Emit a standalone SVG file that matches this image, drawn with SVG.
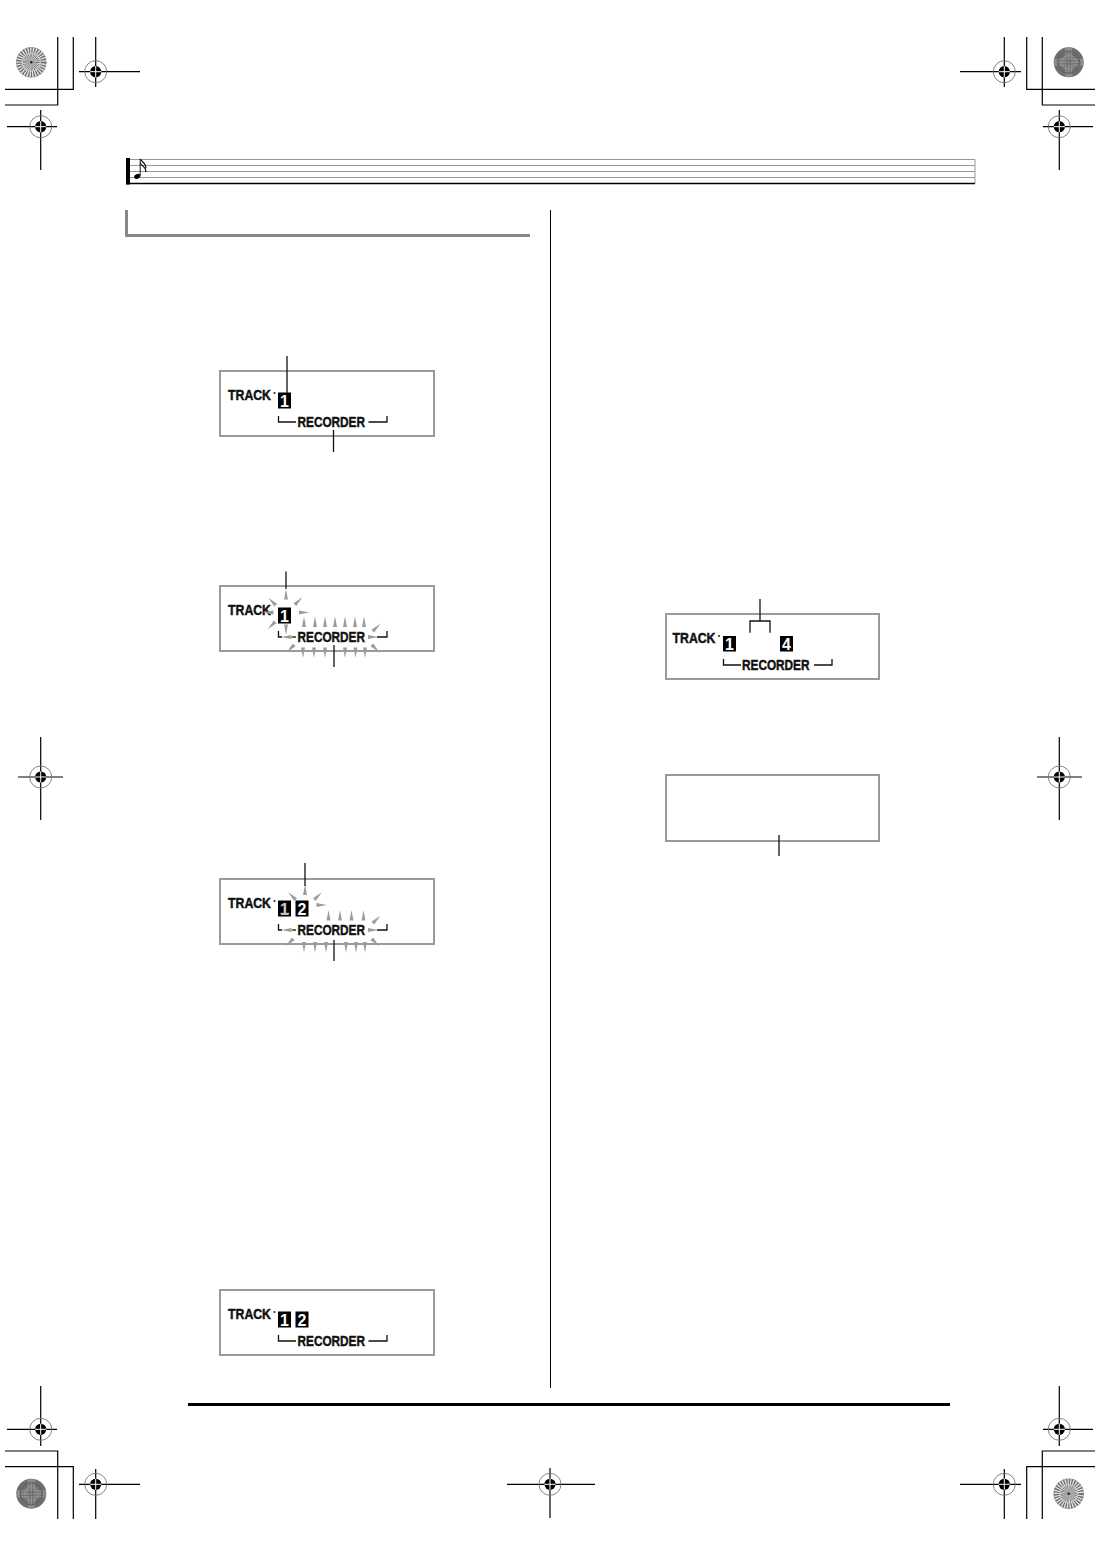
<svg xmlns="http://www.w3.org/2000/svg" xmlns:xlink="http://www.w3.org/1999/xlink" width="1100" height="1556" viewBox="0 0 1100 1556">
<style>
.lcd{fill:none;stroke:#9a9a9a;stroke-width:2}
.lbl{font-family:"Liberation Sans",Arial,sans-serif;font-weight:bold;fill:#111;stroke:#111;stroke-width:0.45}
.trk{font-size:14.5px}
.rec{font-size:15px}
.dig{font-family:"Liberation Sans",Arial,sans-serif;font-weight:bold;font-size:16px;fill:#fff;text-anchor:middle}
.br{fill:none;stroke:#111;stroke-width:1.3}
.ptr{stroke:#111;stroke-width:1.3}
.ray{fill:#9c9c9c}
.cl{stroke:#000;stroke-width:1.2}
.crop{fill:none;stroke:#000;stroke-width:1.2}
.staff{stroke:#999;stroke-width:1}
</style>
<defs>
<polygon id="ray" class="ray" points="0,-6 2,4.5 -2,4.5"/>
<g id="rm">
<circle r="11" fill="none" stroke="#777" stroke-width="0.9"/>
<circle r="5.6" fill="#000"/>
<line x1="-5.6" y1="0" x2="5.6" y2="0" stroke="#fff" stroke-width="1"/>
<line x1="0" y1="-5.6" x2="0" y2="5.6" stroke="#fff" stroke-width="1"/>
</g>
<g id="discR">
<circle r="15" fill="#e6e6e6"/>
<circle r="7.5" fill="none" stroke="#6a6a6a" stroke-width="15" stroke-dasharray="0.8 0.8"/>
<circle r="9" fill="none" stroke="#ddd" stroke-width="1.2" opacity="0.6"/>
<circle r="15" fill="none" stroke="#888" stroke-width="0.6"/>
<circle r="1.2" fill="#222"/>
</g>
<g id="discX">
<circle r="15" fill="#6e6e6e"/>
<path d="M-3.5,-14.5 H3.5 V-3.5 H14.5 V3.5 H3.5 V14.5 H-3.5 V3.5 H-14.5 V-3.5 H-3.5 Z" fill="#8e8e8e"/>
<circle r="7" fill="none" stroke="#a0a0a0" stroke-width="1"/>
<circle r="11" fill="none" stroke="#5e5e5e" stroke-width="1"/>
<path d="M-1.5,-12 V12 M1.5,-12 V12 M-12,-1.5 H12 M-12,1.5 H12" stroke="#5a5a5a" stroke-width="0.7"/>
</g>
</defs>
<rect width="1100" height="1556" fill="#fff"/>

<g id="page-marks">
<polyline class="crop" points="5,89.3 73.3,89.3 73.3,37"/>
<polyline class="crop" points="5,105 57.7,105 57.7,37"/>
<polyline class="crop" points="1095,89.3 1026.7,89.3 1026.7,37"/>
<polyline class="crop" points="1095,105 1042.3,105 1042.3,37"/>
<polyline class="crop" points="5,1451 57.7,1451 57.7,1519"/>
<polyline class="crop" points="5,1466.7 73.3,1466.7 73.3,1519"/>
<polyline class="crop" points="1095,1451 1042.3,1451 1042.3,1519"/>
<polyline class="crop" points="1095,1466.7 1026.7,1466.7 1026.7,1519"/>
<use xlink:href="#discR" transform="translate(31.3,62.3)"/>
<use xlink:href="#discX" transform="translate(1068.7,62.3)"/>
<use xlink:href="#discX" transform="translate(31.3,1493.7)"/>
<use xlink:href="#discR" transform="translate(1068.7,1493.7)"/>
<path class="cl" d="M79,71.7 H140 M95.7,37 V87"/><use xlink:href="#rm" transform="translate(95.7,71.7)"/>
<path class="cl" d="M7,126.7 H57 M40.7,110 V170"/><use xlink:href="#rm" transform="translate(40.7,126.7)"/>
<path class="cl" d="M960,71.7 H1021 M1004.3,37 V87"/><use xlink:href="#rm" transform="translate(1004.3,71.7)"/>
<path class="cl" d="M1043,126.7 H1093 M1059.3,110 V170"/><use xlink:href="#rm" transform="translate(1059.3,126.7)"/>
<path class="cl" d="M18,777 H63 M40.7,737 V820"/><use xlink:href="#rm" transform="translate(40.7,777)"/>
<path class="cl" d="M1037,777 H1082 M1059.3,737 V820"/><use xlink:href="#rm" transform="translate(1059.3,777)"/>
<path class="cl" d="M7,1429.3 H57 M40.7,1386 V1446"/><use xlink:href="#rm" transform="translate(40.7,1429.3)"/>
<path class="cl" d="M79,1484.3 H140 M95.7,1469 V1519"/><use xlink:href="#rm" transform="translate(95.7,1484.3)"/>
<path class="cl" d="M960,1484.3 H1021 M1004.3,1469 V1519"/><use xlink:href="#rm" transform="translate(1004.3,1484.3)"/>
<path class="cl" d="M1043,1429.3 H1093 M1059.3,1386 V1446"/><use xlink:href="#rm" transform="translate(1059.3,1429.3)"/>
<path class="cl" d="M507,1484.3 H595 M550,1468 V1518"/><use xlink:href="#rm" transform="translate(550,1484.3)"/>
</g>

<g id="header">
<line class="staff" x1="126" y1="159.5" x2="975" y2="159.5"/>
<line class="staff" x1="126" y1="165.5" x2="975" y2="165.5"/>
<line class="staff" x1="126" y1="171.5" x2="975" y2="171.5"/>
<line class="staff" x1="126" y1="177.5" x2="975" y2="177.5"/>
<line class="staff" x1="975" y1="159.5" x2="975" y2="183.5"/>
<line x1="126" y1="183.5" x2="975" y2="183.5" stroke="#000" stroke-width="1.6"/>
<rect x="126" y="158" width="4" height="26.5" fill="#000"/>
<ellipse cx="137.3" cy="176.3" rx="3.2" ry="2.3" transform="rotate(-25 137.3 176.3)" fill="#000"/>
<line x1="140.2" y1="175.5" x2="140.2" y2="159" stroke="#000" stroke-width="0.9"/>
<path d="M140.2,159 C141.5,162 146.5,163 145.8,168.5" fill="none" stroke="#000" stroke-width="1.1"/>
<path d="M140.2,163 C141.5,166 146.5,167 145.8,172" fill="none" stroke="#000" stroke-width="1.1"/>
</g>

<g id="section-bar">
<rect x="125" y="210" width="3" height="27" fill="#888"/>
<rect x="125" y="234" width="405" height="3" fill="#888"/>
</g>

<g id="dividers">
<line x1="550.5" y1="210" x2="550.5" y2="1388" stroke="#000" stroke-width="1"/>
<line x1="188" y1="1404.5" x2="950" y2="1404.5" stroke="#000" stroke-width="3"/>
</g>

<g id="lcd1">
<rect class="lcd" x="220" y="371" width="214" height="65"/>
<text class="lbl trk" x="228" y="400" textLength="43" lengthAdjust="spacingAndGlyphs">TRACK</text>
<circle cx="274.5" cy="393" r="1.1" fill="#333"/>
<rect x="278" y="392.5" width="13" height="16" fill="#000"/>
<text class="dig" x="284.5" y="406.5">1</text>
<path class="br" d="M278.5,416 V422 H296"/>
<text class="lbl rec" x="297.5" y="426.7" textLength="67.5" lengthAdjust="spacingAndGlyphs">RECORDER</text>
<path class="br" d="M368.5,422 H387 V416"/>
</g>

<g id="lcd2" transform="translate(0,215)">
<rect class="lcd" x="220" y="371" width="214" height="65"/>
<text class="lbl trk" x="228" y="400" textLength="43" lengthAdjust="spacingAndGlyphs">TRACK</text>
<rect x="278" y="392.5" width="13" height="16" fill="#000"/>
<text class="dig" x="284.5" y="406.5">1</text>
<path class="br" d="M278.5,416 V422 H282"/>
<path class="br" d="M292,422 H296"/>
<text class="lbl rec" x="297.5" y="426.7" textLength="67.5" lengthAdjust="spacingAndGlyphs">RECORDER</text>
<path class="br" d="M377,422 H387 V416"/>
<use xlink:href="#ray" transform="translate(287,422) rotate(-90)"/>
<use xlink:href="#ray" transform="translate(372.5,422) rotate(90)"/>
<use xlink:href="#ray" transform="translate(286,380)"/>
<use xlink:href="#ray" transform="translate(272.5,387) rotate(-45)"/>
<use xlink:href="#ray" transform="translate(298,386.5) rotate(45)"/>
<use xlink:href="#ray" transform="translate(269,397.5) rotate(-90)"/>
<use xlink:href="#ray" transform="translate(303.5,397.5) rotate(90)"/>
<use xlink:href="#ray" transform="translate(272,410) rotate(-135)"/>
<use xlink:href="#ray" transform="translate(286,414) rotate(180)"/>
<use xlink:href="#ray" transform="translate(304,407.5)"/>
<use xlink:href="#ray" transform="translate(315,407.5)"/>
<use xlink:href="#ray" transform="translate(325,407.5)"/>
<use xlink:href="#ray" transform="translate(335,407.5)"/>
<use xlink:href="#ray" transform="translate(345,407.5)"/>
<use xlink:href="#ray" transform="translate(355,407.5)"/>
<use xlink:href="#ray" transform="translate(364,407.5)"/>
<use xlink:href="#ray" transform="translate(376,413) rotate(45)"/>
<use xlink:href="#ray" transform="translate(291,433) rotate(-135)"/>
<use xlink:href="#ray" transform="translate(303,437) rotate(180)"/>
<use xlink:href="#ray" transform="translate(314,437) rotate(180)"/>
<use xlink:href="#ray" transform="translate(325,437) rotate(180)"/>
<use xlink:href="#ray" transform="translate(345,437) rotate(180)"/>
<use xlink:href="#ray" transform="translate(355.5,437) rotate(180)"/>
<use xlink:href="#ray" transform="translate(365,437) rotate(180)"/>
<use xlink:href="#ray" transform="translate(375,433) rotate(135)"/>
</g>

<g id="lcd3" transform="translate(0,508)">
<rect class="lcd" x="220" y="371" width="214" height="65"/>
<text class="lbl trk" x="228" y="400" textLength="43" lengthAdjust="spacingAndGlyphs">TRACK</text>
<circle cx="274.5" cy="393" r="1.1" fill="#333"/>
<rect x="278" y="392.5" width="13" height="16" fill="#000"/>
<text class="dig" x="284.5" y="406.5" style="fill:#d0d0d0">1</text>
<line x1="280.5" y1="405.5" x2="289" y2="405.5" stroke="#bbb" stroke-width="1.4"/>
<rect x="295.5" y="392.5" width="13" height="16" fill="#000"/>
<text class="dig" x="302" y="406.5">2</text>
<path class="br" d="M278.5,416 V422 H282"/>
<path class="br" d="M292,422 H296"/>
<text class="lbl rec" x="297.5" y="426.7" textLength="67.5" lengthAdjust="spacingAndGlyphs">RECORDER</text>
<path class="br" d="M377,422 H387 V416"/>
<use xlink:href="#ray" transform="translate(287,422) rotate(-90)"/>
<use xlink:href="#ray" transform="translate(372.5,422) rotate(90)"/>
<use xlink:href="#ray" transform="translate(305,382.5)"/>
<use xlink:href="#ray" transform="translate(292.5,388.5) rotate(-45)"/>
<use xlink:href="#ray" transform="translate(317.5,388.5) rotate(45)"/>
<use xlink:href="#ray" transform="translate(321,397) rotate(90)"/>
<use xlink:href="#ray" transform="translate(328.5,408)"/>
<use xlink:href="#ray" transform="translate(340,408)"/>
<use xlink:href="#ray" transform="translate(351.5,408)"/>
<use xlink:href="#ray" transform="translate(363.5,408)"/>
<use xlink:href="#ray" transform="translate(376,412) rotate(45)"/>
<use xlink:href="#ray" transform="translate(290,434) rotate(-135)"/>
<use xlink:href="#ray" transform="translate(304,438.5) rotate(180)"/>
<use xlink:href="#ray" transform="translate(315,438.5) rotate(180)"/>
<use xlink:href="#ray" transform="translate(326,438.5) rotate(180)"/>
<use xlink:href="#ray" transform="translate(346,438.5) rotate(180)"/>
<use xlink:href="#ray" transform="translate(356,438.5) rotate(180)"/>
<use xlink:href="#ray" transform="translate(365,438.5) rotate(180)"/>
<use xlink:href="#ray" transform="translate(375,434) rotate(135)"/>
</g>

<g id="lcd4" transform="translate(0,919)">
<rect class="lcd" x="220" y="371" width="214" height="65"/>
<text class="lbl trk" x="228" y="400" textLength="43" lengthAdjust="spacingAndGlyphs">TRACK</text>
<circle cx="274.5" cy="393" r="1.1" fill="#333"/>
<rect x="278" y="392.5" width="13" height="16" fill="#000"/>
<text class="dig" x="284.5" y="406.5">1</text>
<rect x="295.5" y="392.5" width="13" height="16" fill="#000"/>
<text class="dig" x="302" y="406.5">2</text>
<path class="br" d="M278.5,416 V422 H296"/>
<text class="lbl rec" x="297.5" y="426.7" textLength="67.5" lengthAdjust="spacingAndGlyphs">RECORDER</text>
<path class="br" d="M368.5,422 H387 V416"/>
</g>

<g id="lcd5" transform="translate(446,243)">
<rect class="lcd" x="220" y="371" width="213" height="65"/>
<text class="lbl trk" x="226.5" y="400" textLength="43" lengthAdjust="spacingAndGlyphs">TRACK</text>
<circle cx="273" cy="393" r="1.1" fill="#333"/>
<rect x="277" y="393" width="13" height="15.5" fill="#000"/>
<text class="dig" x="283.5" y="406.5">1</text>
<rect x="334" y="393" width="13" height="15.5" fill="#000"/>
<text class="dig" x="340.5" y="406.5">4</text>
<path class="br" d="M304,389.7 V378 H324 V389.7"/>
<path class="br" d="M277.5,416 V422 H295"/>
<text class="lbl rec" x="296" y="426.7" textLength="67.5" lengthAdjust="spacingAndGlyphs">RECORDER</text>
<path class="br" d="M368,422 H386 V416"/>
</g>

<g id="lcd6">
<rect class="lcd" x="666" y="775" width="213" height="66"/>
</g>

<g id="connectors">
<line class="ptr" x1="287" y1="356" x2="287" y2="393"/>
<line class="ptr" x1="333.5" y1="430" x2="333.5" y2="452"/>
<line class="ptr" x1="286" y1="571.5" x2="286" y2="589"/>
<line class="ptr" x1="334" y1="645" x2="334" y2="667"/>
<line class="ptr" x1="305" y1="863" x2="305" y2="886"/>
<line class="ptr" x1="334" y1="940" x2="334" y2="961"/>
<line class="ptr" x1="760" y1="599" x2="760" y2="621"/>
<line class="ptr" x1="779" y1="835" x2="779" y2="856"/>
</g>
</svg>
